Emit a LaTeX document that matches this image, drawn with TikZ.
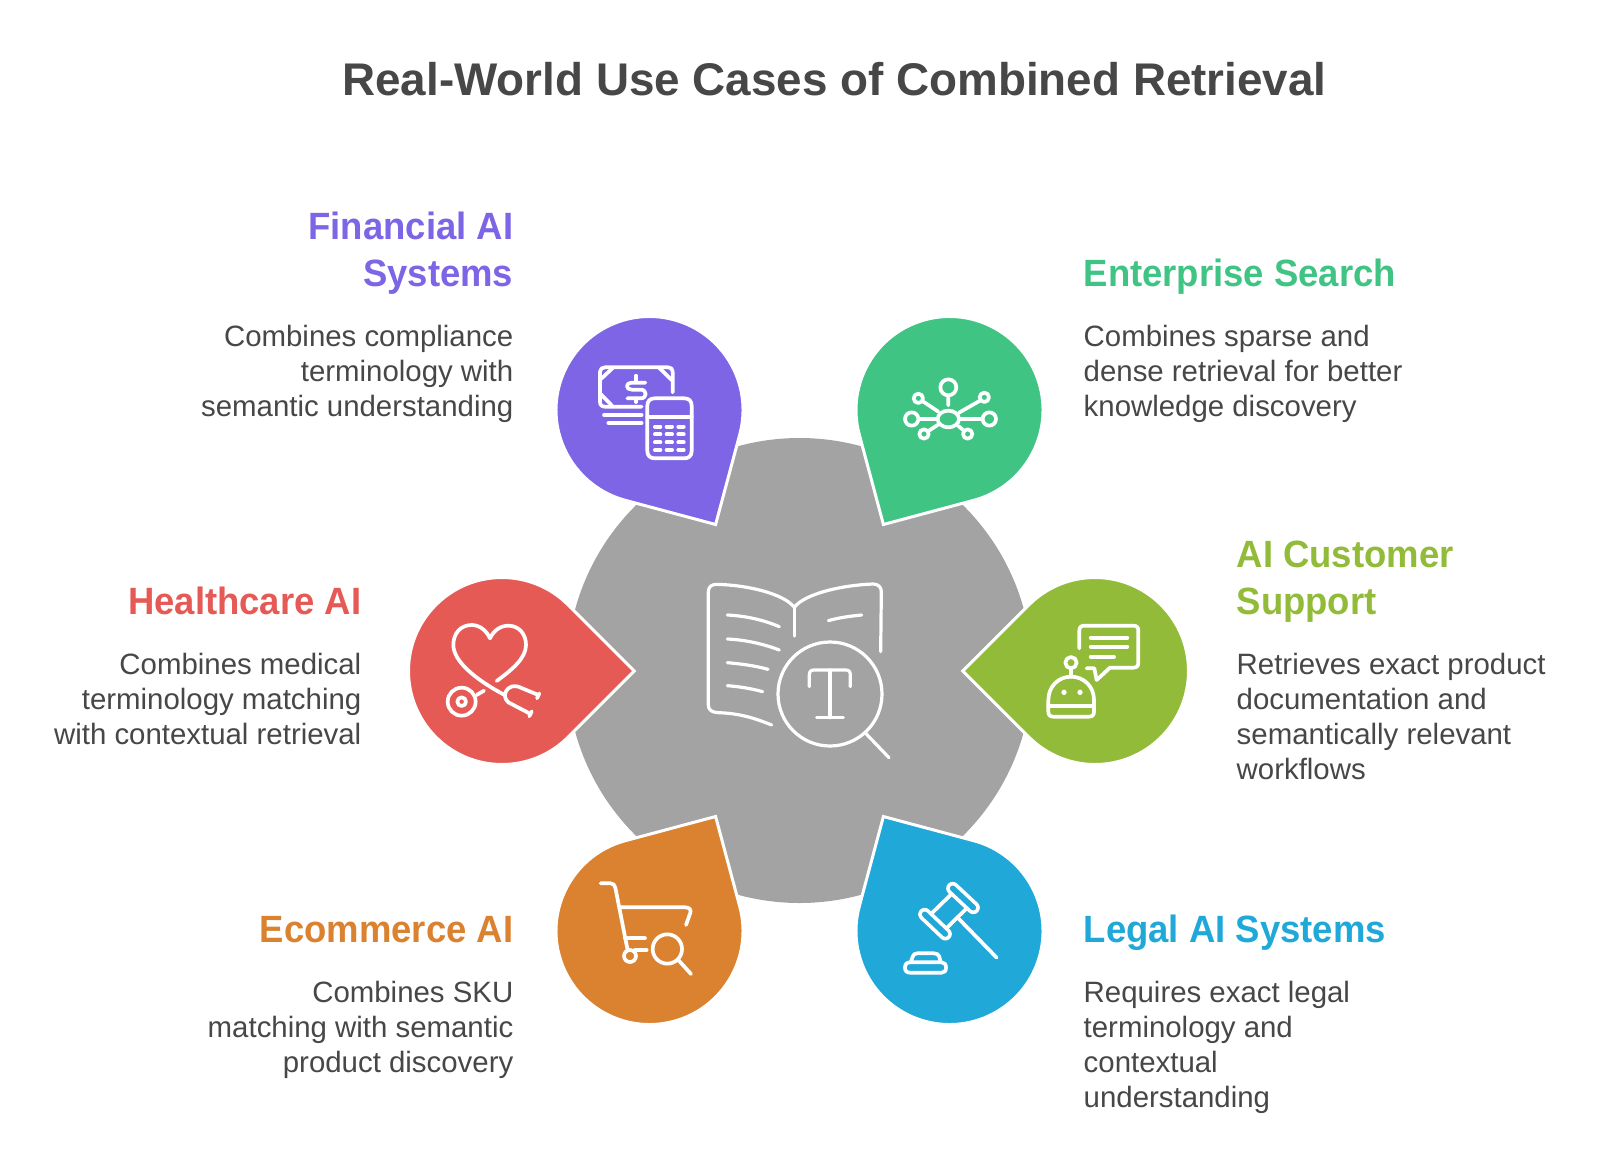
\documentclass[tikz,border=0pt]{standalone}
\usepackage{fontspec}
\setmainfont{Liberation Sans}
\newfontfamily\headfont[FakeStretch=0.96]{Liberation Sans}
\definecolor{hubgrey}{HTML}{A3A3A3}
\definecolor{txt}{HTML}{474747}
\definecolor{cpurple}{HTML}{7D65E6}
\definecolor{cgreen}{HTML}{3FC484}
\definecolor{cred}{HTML}{E65A55}
\definecolor{clime}{HTML}{93BB3A}
\definecolor{corange}{HTML}{DB8230}
\definecolor{cblue}{HTML}{1FA8D8}
\tikzset{
  dropshape/.style={draw=white,line width=3pt,line join=miter,miter limit=10},
  icon/.style={draw=white,line width=3.7pt,line cap=round,line join=round},
  bookline/.style={draw=white,line width=3.2pt,line cap=round,line join=round},
  zoomed/.style={x=0.33333pt,y=-0.33333pt},
  headtext/.style={inner sep=0pt,font=\headfont\bfseries\fontsize{38}{47}\selectfont},
  bodytext/.style={inner sep=0pt,text=txt,font=\fontsize{29.4}{35.2}\selectfont},
}
\newcommand{\teardrop}[5]{%
  \path[fill=#5,dropshape]
    ([shift={(#4:132.2pt)}]#2,#3) coordinate (#1tip)
    -- ([shift={(#4+45:93.5pt)}]#2,#3)
    arc[start angle=#4+45,delta angle=270,radius=93.5pt]
    -- cycle;}
\newcommand{\hstrut}{\rule{0pt}{30pt}}
\newcommand{\bstrut}{\rule{0pt}{25pt}}
\begin{document}
\begin{tikzpicture}[x=1pt,y=-1pt]
\useasboundingbox (0,0) rectangle (1600,1153);
\fill[white] (0,0) rectangle (1600,1153);
\node[inner sep=0pt,text=txt,font=\bfseries\fontsize{45.8}{50}\selectfont] (title) at (834.5,79) {Real-World Use Cases of Combined Retrieval};

\fill[hubgrey] (799.5,670.5) circle[radius=232.5];
\teardrop{fin}{649.5}{410}{-60}{cpurple}
\teardrop{ent}{949.5}{410}{-120}{cgreen}
\teardrop{hea}{502}{671}{0}{cred}
\teardrop{sup}{1095}{671}{180}{clime}
\teardrop{eco}{649.5}{931}{60}{corange}
\teardrop{leg}{949.5}{931}{120}{cblue}

% centre book
\begin{scope}[shift={(680,570)},zoomed]
\draw[bookline] (275,465) .. controls (225,445) and (180,430) .. (115,428) .. controls (95,427) and (85,420) .. (85,405) -- (85,65) .. controls (85,50) and (95,43) .. (110,43) .. controls (200,45) and (310,70) .. (343,112) .. controls (375,70) and (490,45) .. (580,42) .. controls (595,42) and (604,52) .. (604,65) -- (602,245);
\draw[bookline] (343,112) -- (343,198);
\draw[bookline] (142,135) .. controls (200,138) and (250,150) .. (298,170);
\draw[bookline] (142,207) .. controls (200,210) and (250,222) .. (298,240);
\draw[bookline] (142,278) .. controls (185,282) and (225,287) .. (264,298);
\draw[bookline] (142,347) .. controls (180,350) and (215,356) .. (248,365);
\draw[bookline] (445,152) .. controls (480,142) and (515,138) .. (545,135);
\draw[bookline] (450,372) circle[radius=156];
\draw[bookline] (557,490) -- (627,563);
\draw[bookline] (388,350) -- (388,315) .. controls (388,305) and (392,300) .. (402,300) -- (497,300) .. controls (507,300) and (511,305) .. (511,315) -- (511,350);
\draw[bookline] (450,300) -- (450,443) (410,443) -- (490,443);
\end{scope}

% financial icon
\begin{scope}[shift={(590,355)},zoomed]
\draw[icon] (155,155) -- (45,155) .. controls (35,155) and (30,150) .. (30,140) -- (30,50) .. controls (30,42) and (37,37) .. (45,37) -- (235,37) .. controls (243,37) and (248,42) .. (248,50) -- (248,112);
\draw[icon] (33,72) -- (68,39) (208,39) -- (246,76) (33,118) -- (66,152);
\draw[icon] (166,83) -- (125,83) .. controls (106,83) and (106,104) .. (125,104) -- (152,104) .. controls (172,104) and (172,130) .. (152,130) -- (112,130);
\draw[icon] (138,62) -- (138,82) (138,130) -- (138,141);
\draw[icon] (42,180) -- (155,180) (55,204) -- (155,204);
\draw[icon] (172,152) .. controls (172,138) and (180,130) .. (194,130) -- (283,130) .. controls (297,130) and (305,138) .. (305,152) -- (305,288) .. controls (305,302) and (297,310) .. (283,310) -- (194,310) .. controls (180,310) and (172,302) .. (172,288) -- cycle;
\draw[icon] (172,186) -- (305,186);
\foreach \yy in {215,238,262,285}{\foreach \xx in {203,238,273}{
  \draw[white,line width=4pt,line cap=round] (\xx-8,\yy) -- (\xx+8,\yy);}}
\end{scope}

% network icon
\begin{scope}[shift={(890,370)},zoomed]
\draw[icon] (175,147) ellipse[x radius=32,y radius=25];
\draw[icon] (175,52) circle[radius=24] (175,78) -- (175,106);
\draw[icon] (65,147) circle[radius=20] (88,147) -- (142,147);
\draw[icon] (298,147) circle[radius=20] (275,147) -- (208,147);
\draw[icon] (85,85) circle[radius=14] (97,93) -- (145,125);
\draw[icon] (283,82) circle[radius=14] (270,92) -- (207,128);
\draw[icon] (102,192) circle[radius=14] (115,183) -- (143,165);
\draw[icon] (233,192) circle[radius=14] (222,182) -- (205,168);
\end{scope}

% robot icon
\begin{scope}[shift={(1040,615)},zoomed]
\draw[icon] (118,100) -- (118,47) .. controls (118,37) and (123,32) .. (133,32) -- (280,32) .. controls (290,32) and (295,37) .. (295,47) -- (295,143) .. controls (295,153) and (290,158) .. (280,158) -- (210,158) -- (170,195) -- (163,160) -- (140,160);
\draw[icon] (152,68) -- (262,68) (152,95) -- (262,95) (152,125) -- (222,125);
\draw[icon] (93,143) circle[radius=17] (93,160) -- (93,185);
\draw[icon] (25,290) -- (25,255) .. controls (25,215) and (55,185) .. (93,185) .. controls (132,185) and (162,215) .. (162,255) -- (162,290) .. controls (162,300) and (157,305) .. (147,305) -- (40,305) .. controls (30,305) and (25,300) .. (25,290) -- cycle;
\draw[icon] (25,272) -- (162,272);
\fill[white] (72,232) circle[radius=8] (120,232) circle[radius=8];
\end{scope}

% heart icon
\begin{scope}[shift={(440,615)},zoomed]
\draw[icon] (170,198) .. controls (215,165) and (258,130) .. (258,90) .. controls (258,55) and (235,32) .. (205,32) .. controls (180,32) and (160,48) .. (150,70) .. controls (140,48) and (120,30) .. (95,30) .. controls (62,30) and (40,55) .. (40,90) .. controls (40,140) and (110,195) .. (190,238);
\draw[icon] (298,235) -- (291,250);
\draw[icon] (295,240) -- (235,215) .. controls (205,205) and (180,240) .. (205,262) -- (272,297);
\draw[icon] (275,289) -- (268,304);
\draw[icon] (65,260) circle[radius=42] (65,260) circle[radius=13];
\draw[icon] (110,240) -- (132,227);
\end{scope}

% cart icon
\begin{scope}[shift={(590,875)},zoomed]
\draw[icon] (32,25) -- (62,25) .. controls (70,25) and (74,30) .. (76,38) -- (113,226);
\draw[icon] (90,97) -- (285,97) .. controls (298,97) and (304,104) .. (301,113) -- (288,150);
\draw[icon] (105,190) -- (165,190) (135,225) -- (170,225);
\draw[icon] (120,243) circle[radius=18];
\draw[icon] (232,222) circle[radius=44] (265,255) -- (303,297);
\end{scope}

% gavel icon
\begin{scope}[shift={(890,875)},zoomed]
\draw[icon] (125,115) -- (196,46) (170,159) -- (240,90);
\draw[white,line width=13pt,line cap=round] (188,40) -- (250,98);
\draw[cblue,line width=5.6pt,line cap=round] (188,40) -- (250,98);
\draw[white,line width=13pt,line cap=round] (104,118) -- (166,177);
\draw[cblue,line width=5.6pt,line cap=round] (104,118) -- (166,177);
\draw[icon] (205,130) -- (320,248);
\draw[icon] (62,262) -- (68,245) .. controls (70,238) and (75,235) .. (82,235) -- (132,235) .. controls (140,235) and (146,238) .. (148,245) -- (152,262);
\draw[icon] (45,278) .. controls (45,268) and (50,262) .. (60,262) -- (155,262) .. controls (163,262) and (168,268) .. (168,278) .. controls (168,288) and (163,293) .. (155,293) -- (60,293) .. controls (50,293) and (45,288) .. (45,278) -- cycle;
\end{scope}

% texts
\node[headtext,text=cpurple,anchor=north east,align=right] (finh) at (513.5,209) {\hstrut Financial AI\\Systems};
\node[bodytext,anchor=north east,align=right] (finb) at (513.5,321) {\bstrut Combines compliance\\terminology with\\semantic understanding};
\node[headtext,text=cgreen,anchor=north west,align=left] (enth) at (1083.5,256) {\hstrut Enterprise Search};
\node[bodytext,anchor=north west,align=left] (entb) at (1083.5,321) {\bstrut Combines sparse and\\dense retrieval for better\\knowledge discovery};
\node[headtext,text=cred,anchor=north east,align=right] (heah) at (361.5,584) {\hstrut Healthcare AI};
\node[bodytext,anchor=north east,align=right] (heab) at (361.5,649) {\bstrut Combines medical\\terminology matching\\with contextual retrieval};
\node[headtext,text=clime,anchor=north west,align=left] (suph) at (1236.5,537) {\hstrut AI Customer\\Support};
\node[bodytext,anchor=north west,align=left] (supb) at (1236.5,649) {\bstrut Retrieves exact product\\documentation and\\semantically relevant\\workflows};
\node[headtext,text=corange,anchor=north east,align=right] (ecoh) at (513.5,912) {\hstrut Ecommerce AI};
\node[bodytext,anchor=north east,align=right] (ecob) at (513.5,977) {\bstrut Combines SKU\\matching with semantic\\product discovery};
\node[headtext,text=cblue,anchor=north west,align=left] (legh) at (1083.5,912) {\hstrut Legal AI Systems};
\node[bodytext,anchor=north west,align=left] (legb) at (1083.5,977) {\bstrut Requires exact legal\\terminology and\\contextual\\understanding};
\end{tikzpicture}
\end{document}
